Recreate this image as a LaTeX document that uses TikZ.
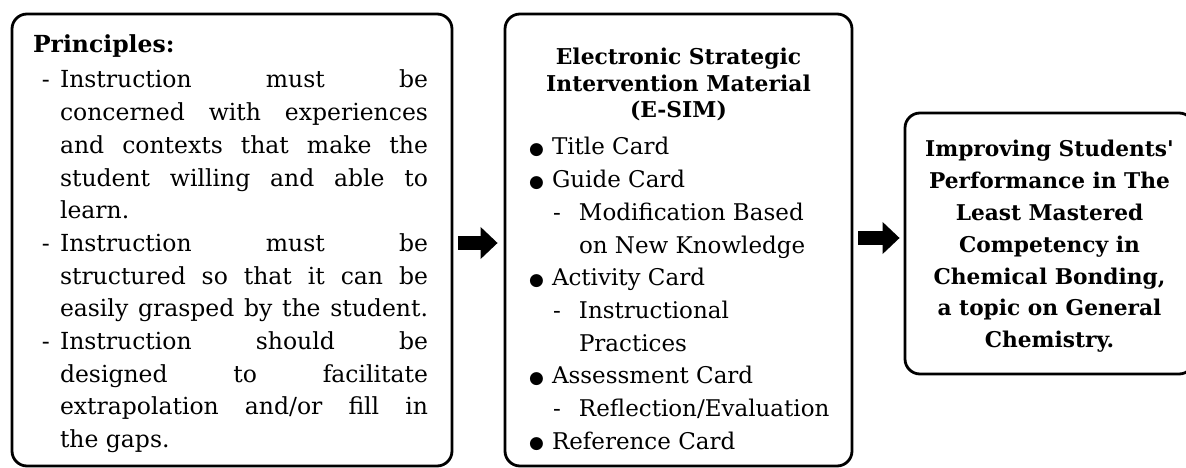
\documentclass[tikz,border=0pt]{standalone}
\usepackage{fontspec}
\setmainfont{DejaVu Serif}
\newfontfamily\symfont{DejaVu Sans}
\usetikzlibrary{arrows.meta,calc}

% justified line of a hanging list item, and its first line with the dash
\newcommand\jline[1]{\hspace*{27pt}\makebox[368pt][s]{#1}}
\newcommand\dline[1]{\hspace*{9pt}\makebox[18pt][l]{-}\makebox[368pt][s]{#1}}
\newcommand\pline[1]{\hspace*{27pt}#1}
% bulleted entries and their sub-entries
\newcommand\bitem[1]{\makebox[23pt][l]{\raisebox{0.5pt}{\symfont\fontsize{17}{17}\selectfont ●}}#1}
\newcommand\sitem[1]{\hspace*{24pt}\makebox[26pt][l]{-}#1}
\newcommand\scont[1]{\hspace*{50pt}#1}

\tikzset{
  panel/.style={draw, line width=2.8pt, rounded corners=15pt, inner sep=0pt},
  txt/.style={inner sep=0pt, outer sep=0pt},
  flow/.style={line width=14.5pt, -{Triangle[length=17pt,width=31pt]}},
}

\begin{document}
\begin{tikzpicture}[x=1pt, y=-1pt]
  \clip (0,0) rectangle (1186,468);
  \path[fill=white] (0,0) rectangle (1186,468);

  % the three panels
  \node[panel, minimum width=440pt, minimum height=452pt] (b1) at (232,240) {};
  \node[panel, minimum width=347pt, minimum height=452pt] (b2) at (678.5,240) {};
  \node[panel, minimum width=289pt, minimum height=261pt] (b3) at (1049.5,243.5) {};

  % principles
  \node[txt, anchor=base west] (t1) at (33,53) {%
    \begin{minipage}[t]{395pt}
      \fontsize{23.5}{32.7}\selectfont
      \textbf{Principles:}\\[2.3pt]
      \dline{Instruction must be}\\
      \jline{concerned with experiences}\\
      \jline{and contexts that make the}\\
      \jline{student willing and able to}\\
      \pline{learn.}\\
      \dline{Instruction must be}\\
      \jline{structured so that it can be}\\
      \jline{easily grasped by the student.}\\
      \dline{Instruction should be}\\
      \jline{designed to facilitate}\\
      \jline{extrapolation and/or fill in}\\
      \pline{the gaps.}
    \end{minipage}};

  % material heading
  \node[txt, anchor=base] (t2h) at (678.5,65) {%
    \begin{minipage}[t]{340pt}
      \centering\bfseries\fontsize{21.8}{26.5}\selectfont
      Electronic Strategic\\
      Intervention Material\\
      (E-SIM)
    \end{minipage}};

  % material cards
  \node[txt, anchor=base west] (t2) at (529,155) {%
    \begin{minipage}[t]{320pt}
      \fontsize{23}{32.7}\selectfont
      \bitem{Title Card}\\
      \bitem{Guide Card}\\
      \sitem{Modification Based}\\
      \scont{on New Knowledge}\\
      \bitem{Activity Card}\\
      \sitem{Instructional}\\
      \scont{Practices}\\
      \bitem{Assessment Card}\\
      \sitem{Reflection/Evaluation}\\
      \bitem{Reference Card}
    \end{minipage}};

  % outcome
  \node[txt, anchor=base] (t3) at (1049.5,157) {%
    \begin{minipage}[t]{290pt}
      \centering\bfseries\fontsize{21.7}{31.8}\selectfont
      Improving Students\textquotesingle\\
      Performance in The\\
      Least Mastered\\
      Competency in\\
      Chemical Bonding,\\
      a topic on General\\
      Chemistry.
    \end{minipage}};

  % block arrows between the panels
  \draw[flow] ($(b1.east)+(5,3)$) -- ($(b2.west)+(-6,3)$);
  \draw[flow] ($(b2.east)+(5,-2)$) -- ($(b3.west)+(-4,-5.5)$);
\end{tikzpicture}
\end{document}
